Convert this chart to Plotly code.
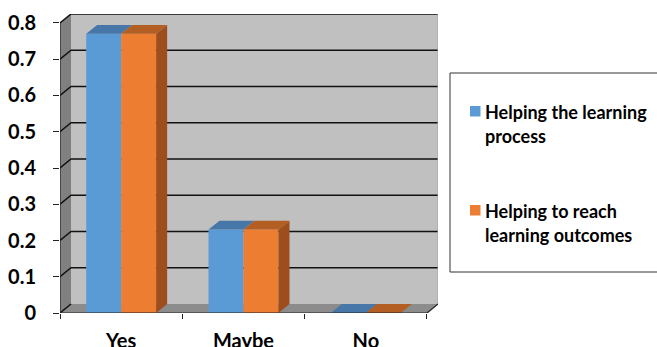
import plotly.graph_objects as go

# ---- data -------------------------------------------------------------
categories = ["Yes", "Maybe", "No"]
series_names = ["Helping the learning process", "Helping to reach learning outcomes"]
legend_lines = [["Helping the learning", "process"], ["Helping to reach", "learning outcomes"]]
learning_process = [0.77, 0.23, 0.0]
learning_outcomes = [0.77, 0.23, 0.0]
y_ticks = [0, 0.1, 0.2, 0.3, 0.4, 0.5, 0.6, 0.7, 0.8]

# ---- styling / geometry -------------------------------------------------
W, H = 657, 347
ML, MR, MT, MB = 60, 219, 14, 34
PW, PH = W - ML - MR, H - MT - MB
X0, X1 = -0.5, len(categories) - 0.5   # front edge of the floor
YMAX = y_ticks[-1]
DX, DY = 0.09, 0.0248                  # depth offset of the pseudo-3D box
BAR_W = 0.286
FONT = "Lato"
LEGEND_SIZE = 18
AXIS_SIZE = 20

front_cols = ["#5B9BD5", "#ED7D31"]
top_cols = ["#4677A8", "#B35E22"]
side_cols = ["#3F6C99", "#9E4E1D"]
series_vals = [learning_process, learning_outcomes]
offsets = [-BAR_W, 0.0]

fig = go.Figure()

# front faces of the columns
for vals, off, col, name in zip(series_vals, offsets, front_cols, series_names):
    fig.add_trace(go.Bar(
        x=list(range(len(categories))), y=vals, width=BAR_W, offset=off,
        marker=dict(color=col, line=dict(width=0)), name=name,
        showlegend=False, hoverinfo="skip"))


def poly_trace(xs, ys, color):
    return go.Scatter(x=xs, y=ys, mode="lines", fill="toself", fillcolor=color,
                      line=dict(width=0, color=color), showlegend=False,
                      hoverinfo="skip")


# top faces and right-hand side faces
for s, (vals, off) in enumerate(zip(series_vals, offsets)):
    tx, ty, sx, sy = [], [], [], []
    for i, v in enumerate(vals):
        a = i + off
        b = a + BAR_W
        tx += [a, b, b + DX, a + DX, a, None]
        ty += [v, v, v + DY, v + DY, v, None]
        sx += [b, b, b + DX, b + DX, b, None]
        sy += [0, v, v + DY, DY, 0, None]
    if s == len(series_vals) - 1:
        fig.add_trace(poly_trace(sx, sy, side_cols[s]))
    fig.add_trace(poly_trace(tx, ty, top_cols[s]))

shapes = []


def path(pts):
    return "M " + " L ".join(f"{x},{y}" for x, y in pts) + " Z"


# walls and floor
shapes.append(dict(type="path", layer="below", line=dict(width=0), fillcolor="#C0C0C0",
                   path=path([(X0 + DX, DY), (X1 + DX, DY), (X1 + DX, YMAX + DY), (X0 + DX, YMAX + DY)])))
shapes.append(dict(type="path", layer="below", line=dict(width=0), fillcolor="#808080",
                   path=path([(X0, 0), (X0, YMAX), (X0 + DX, YMAX + DY), (X0 + DX, DY)])))
shapes.append(dict(type="path", layer="below", line=dict(width=0), fillcolor="#8C8C8C",
                   path=path([(X0, 0), (X1, 0), (X1 + DX, DY), (X0 + DX, DY)])))

# gridlines across the side wall and back wall
for v in y_ticks:
    shapes.append(dict(type="path", layer="below", line=dict(color="#111111", width=1.5),
                       path=f"M {X0},{v} L {X0 + DX},{v + DY}" + ("" if v == 0 else f" L {X1 + DX},{v + DY}")))

# box edges
shapes.append(dict(type="line", layer="above", x0=X0, y0=0, x1=X0, y1=YMAX,
                   line=dict(color="#222222", width=1.2)))
shapes.append(dict(type="line", layer="above", x0=X0, y0=0, x1=X1, y1=0,
                   line=dict(color="#222222", width=1.2)))
shapes.append(dict(type="line", layer="above", x0=X1, y0=0, x1=X1 + DX, y1=DY,
                   line=dict(color="#222222", width=1.2)))
shapes.append(dict(type="line", layer="below", x0=X1 + DX, y0=DY, x1=X1 + DX, y1=YMAX + DY,
                   line=dict(color="#A0A0A0", width=1)))


# legend box drawn in pixel-derived paper coordinates
def px(xp):
    return (xp - ML) / PW


def py(yp):
    return (H - MB - yp) / PH


shapes.append(dict(type="rect", xref="paper", yref="paper", layer="above",
                   x0=px(450), x1=px(670), y0=py(73), y1=py(272),
                   line=dict(color="#333333", width=1), fillcolor="rgba(0,0,0,0)"))
annotations = []
legend_y = [(111, 135), (210, 234)]
for k, col in enumerate(front_cols):
    y1, y2 = legend_y[k]
    shapes.append(dict(type="rect", xref="paper", yref="paper", layer="above",
                       x0=px(470), x1=px(480.5), y0=py(y1 - 5), y1=py(y1 + 5.5),
                       line=dict(width=0), fillcolor=col))
    for line_text, yy in zip(legend_lines[k], (y1, y2)):
        annotations.append(dict(xref="paper", yref="paper", x=px(483), y=py(yy + 1),
                                xanchor="left", yanchor="middle", showarrow=False,
                                text=line_text,
                                font=dict(family=FONT, size=LEGEND_SIZE, color="#000000", weight=700)))

fig.update_layout(
    width=W, height=H, margin=dict(l=ML, r=MR, t=MT, b=MB, autoexpand=False),
    paper_bgcolor="white", plot_bgcolor="white",
    showlegend=False, shapes=shapes, annotations=annotations,
    xaxis=dict(range=[X0, X1 + DX], tickvals=list(range(len(categories))),
               ticktext=categories, ticks="", showgrid=False, zeroline=False,
               showline=False, ticklabelstandoff=14, automargin=False,
               tickfont=dict(family=FONT, size=AXIS_SIZE, color="#000000", weight=700),
               minor=dict(ticks="outside", tick0=X0, dtick=1, ticklen=5,
                          tickcolor="#222222", tickwidth=1, showgrid=False)),
    yaxis=dict(range=[0, YMAX + DY], tickvals=y_ticks, ticks="outside", ticklen=6,
               tickcolor="#222222", tickwidth=1, showgrid=False, zeroline=False,
               showline=False, ticklabelstandoff=13, automargin=False,
               tickfont=dict(family=FONT, size=AXIS_SIZE, color="#000000", weight=700)),
)

fig.write_html("out.html")
